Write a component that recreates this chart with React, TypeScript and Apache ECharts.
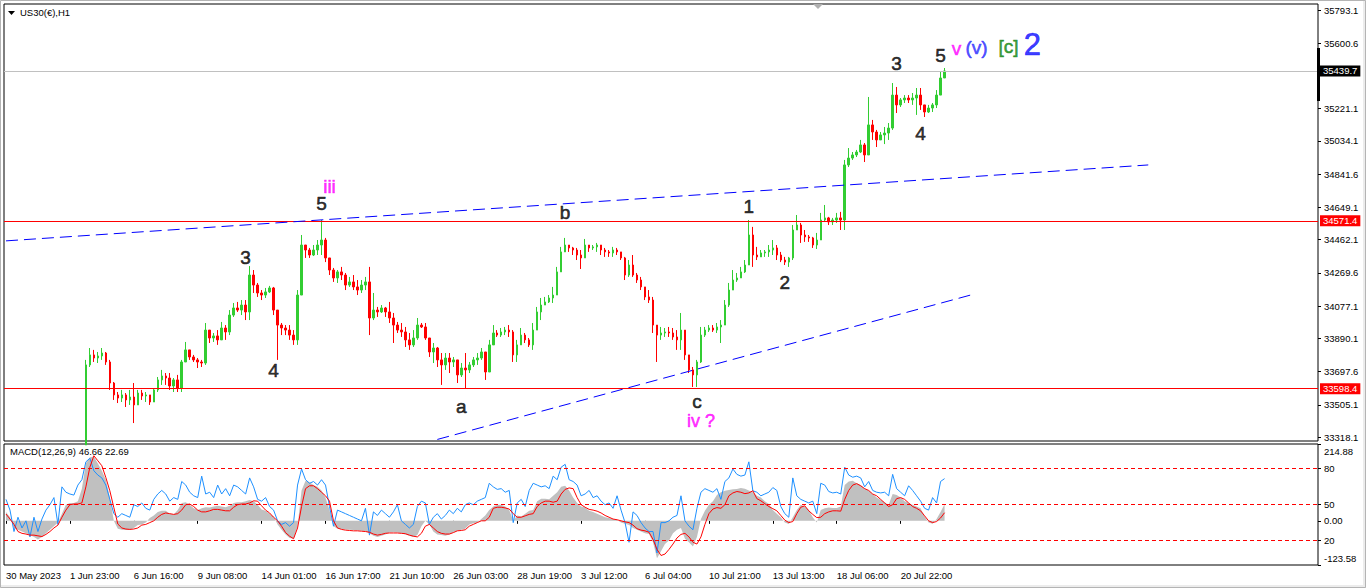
import React, { useEffect, useRef } from "react";
import * as echarts from "echarts";

// ---------- DATA ----------
const timeLabels = [
  "30 May 2023", "1 Jun 23:00", "6 Jun 16:00", "9 Jun 08:00", "14 Jun 01:00",
  "16 Jun 17:00", "21 Jun 10:00", "26 Jun 03:00", "28 Jun 19:00", "3 Jul 12:00",
  "6 Jul 04:00", "10 Jul 21:00", "13 Jul 13:00", "18 Jul 06:00", "20 Jul 22:00",
];
const barsPerTimeLabel = 16;
const categoryCount = 329;
const firstCandleBar = 20;

const opens = [
  33272, 33736, 33794, 33776, 33788, 33805, 33753, 33631, 33562, 33544,
  33562, 33533, 33550, 33504, 33573, 33556, 33562, 33521, 33591, 33649,
  33672, 33660, 33614, 33649, 33602, 33753, 33823, 33782, 33765, 33753,
  33747, 33938, 33892, 33904, 33881, 33950, 33927, 34025, 34066, 34054,
  34083, 34043, 34257, 34199, 34153, 34141, 34159, 34182, 34054, 33967,
  33950, 33938, 33909, 33881, 34141, 34431, 34402, 34373, 34402, 34431,
  34460, 34356, 34286, 34240, 34275, 34257, 34199, 34217, 34188, 34170,
  34199, 34217, 34008, 34054, 34043, 34066, 34043, 34008, 33967, 33938,
  33927, 33881, 33852, 33892, 33967, 33956, 33892, 33811, 33834, 33765,
  33736, 33776, 33753, 33765, 33678, 33718, 33707, 33736, 33765, 33776,
  33811, 33695, 33852, 33921, 33909, 33927, 33938, 33927, 33794, 33852,
  33909, 33881, 33852, 33938, 34043, 34083, 34101, 34124, 34141, 34275,
  34391, 34431, 34414, 34402, 34373, 34356, 34431, 34414, 34420, 34431,
  34402, 34391, 34385, 34402, 34391, 34356, 34257, 34315, 34257, 34228,
  34188, 34130, 34112, 33967, 33909, 33921, 33927, 33921, 33898, 33881,
  33938, 33794, 33707, 33678, 33753, 33909, 33938, 33950, 33938, 33956,
  33967, 34083, 34170, 34228, 34240, 34275, 34315, 34489, 34373, 34362,
  34385, 34391, 34402, 34414, 34373, 34344, 34332, 34356, 34518, 34547,
  34489, 34478, 34472, 34431, 34460, 34576, 34588, 34565, 34576, 34588,
  34576, 34895, 34935, 34953, 34970, 35011, 34953, 35127, 35086, 35040,
  35069, 35080, 35109, 35300, 35243, 35272, 35283, 35272, 35283, 35300,
  35243, 35202, 35225, 35243, 35300, 35399,
];
const closes = [
  33736, 33794, 33776, 33788, 33805, 33753, 33631, 33562, 33544, 33562,
  33533, 33550, 33504, 33573, 33556, 33562, 33521, 33591, 33649, 33672,
  33660, 33614, 33649, 33602, 33753, 33823, 33782, 33765, 33753, 33747,
  33938, 33892, 33904, 33881, 33950, 33927, 34025, 34066, 34054, 34083,
  34043, 34257, 34199, 34153, 34141, 34159, 34182, 34054, 33967, 33950,
  33938, 33909, 33881, 34141, 34431, 34402, 34373, 34402, 34431, 34460,
  34356, 34286, 34240, 34275, 34257, 34199, 34217, 34188, 34170, 34199,
  34217, 34008, 34054, 34043, 34066, 34043, 34008, 33967, 33938, 33927,
  33881, 33852, 33892, 33967, 33956, 33892, 33811, 33834, 33765, 33736,
  33776, 33753, 33765, 33678, 33718, 33707, 33736, 33765, 33776, 33811,
  33695, 33852, 33921, 33909, 33927, 33938, 33927, 33794, 33852, 33909,
  33881, 33852, 33938, 34043, 34083, 34101, 34124, 34141, 34275, 34391,
  34431, 34414, 34402, 34373, 34356, 34431, 34414, 34420, 34431, 34402,
  34391, 34385, 34402, 34391, 34356, 34257, 34315, 34257, 34228, 34188,
  34130, 34112, 33967, 33909, 33921, 33927, 33921, 33898, 33881, 33938,
  33794, 33707, 33678, 33753, 33909, 33938, 33950, 33938, 33956, 33967,
  34083, 34170, 34228, 34240, 34275, 34315, 34489, 34373, 34362, 34385,
  34391, 34402, 34414, 34373, 34344, 34332, 34356, 34518, 34547, 34489,
  34478, 34472, 34431, 34460, 34576, 34588, 34565, 34576, 34588, 34576,
  34895, 34935, 34953, 34970, 35011, 34953, 35127, 35086, 35040, 35069,
  35080, 35109, 35300, 35243, 35272, 35283, 35272, 35283, 35300, 35243,
  35202, 35225, 35243, 35300, 35399, 35439.7,
];
const lows = [
  33272, 33724, 33753, 33747, 33765, 33736, 33591, 33533, 33515, 33521,
  33492, 33504, 33399, 33504, 33533, 33521, 33504, 33521, 33579, 33620,
  33620, 33591, 33579, 33579, 33579, 33753, 33765, 33753, 33718, 33724,
  33736, 33863, 33869, 33852, 33881, 33881, 33909, 34014, 34043, 34025,
  33996, 33996, 34153, 34130, 34112, 34124, 34153, 34025, 33765, 33909,
  33909, 33881, 33852, 33852, 34141, 34356, 34356, 34367, 34373, 34373,
  34332, 34257, 34217, 34211, 34228, 34170, 34188, 34170, 34141, 34153,
  34170, 33909, 33996, 34014, 34037, 34014, 33979, 33863, 33921, 33898,
  33840, 33823, 33840, 33881, 33950, 33881, 33782, 33747, 33724, 33620,
  33707, 33689, 33724, 33631, 33666, 33602, 33689, 33724, 33736, 33765,
  33649, 33695, 33852, 33898, 33898, 33909, 33898, 33753, 33753, 33852,
  33863, 33840, 33823, 33938, 33996, 34083, 34095, 34095, 34141, 34275,
  34391, 34391, 34373, 34344, 34292, 34356, 34391, 34402, 34391, 34373,
  34362, 34362, 34362, 34373, 34344, 34228, 34246, 34246, 34211, 34170,
  34112, 34095, 33921, 33753, 33881, 33898, 33898, 33881, 33823, 33823,
  33765, 33689, 33608, 33608, 33747, 33898, 33927, 33927, 33921, 33863,
  33967, 34072, 34170, 34217, 34240, 34269, 34315, 34304, 34344, 34362,
  34362, 34362, 34373, 34344, 34332, 34315, 34304, 34344, 34518, 34443,
  34449, 34449, 34414, 34408, 34460, 34565, 34547, 34547, 34559, 34518,
  34518, 34883, 34924, 34941, 34964, 34912, 34953, 35040, 34999, 35040,
  35016, 35040, 35098, 35196, 35231, 35254, 35254, 35243, 35185, 35214,
  35173, 35196, 35202, 35225, 35300, 35399,
];
const highs = [
  33765, 33834, 33823, 33811, 33834, 33811, 33765, 33637, 33579, 33591,
  33573, 33591, 33631, 33591, 33591, 33579, 33562, 33602, 33666, 33707,
  33689, 33689, 33660, 33678, 33765, 33869, 33823, 33794, 33776, 33765,
  33979, 33938, 33921, 33938, 33985, 33967, 34054, 34095, 34101, 34112,
  34112, 34309, 34286, 34211, 34170, 34182, 34194, 34188, 34054, 33979,
  33967, 33967, 33938, 34170, 34489, 34431, 34414, 34431, 34460, 34576,
  34472, 34356, 34298, 34286, 34304, 34269, 34246, 34257, 34228, 34228,
  34246, 34304, 34153, 34072, 34083, 34072, 34101, 34037, 33985, 33979,
  33956, 33921, 33938, 34008, 33979, 33979, 33892, 33863, 33840, 33805,
  33805, 33805, 33782, 33765, 33747, 33805, 33753, 33782, 33805, 33834,
  33811, 33881, 33967, 33938, 33950, 33956, 33967, 33938, 33881, 33950,
  33921, 33892, 33979, 34072, 34124, 34130, 34141, 34188, 34304, 34420,
  34472, 34431, 34420, 34414, 34402, 34466, 34431, 34431, 34443, 34431,
  34414, 34402, 34420, 34414, 34391, 34362, 34344, 34373, 34269, 34246,
  34188, 34170, 34130, 33967, 33956, 33950, 33956, 33950, 33938, 34037,
  33938, 33794, 33724, 33765, 33956, 33956, 33967, 33967, 33979, 33996,
  34112, 34211, 34286, 34269, 34304, 34344, 34576, 34536, 34420, 34402,
  34402, 34431, 34460, 34431, 34391, 34362, 34362, 34547, 34605, 34559,
  34518, 34489, 34478, 34501, 34617, 34663, 34594, 34588, 34617, 34623,
  34924, 34993, 34970, 34982, 35040, 35022, 35289, 35156, 35098, 35086,
  35115, 35138, 35370, 35347, 35283, 35300, 35300, 35312, 35341, 35341,
  35243, 35243, 35254, 35329, 35434, 35457,
];

// MACD window (one value per bar, from the first bar on the screen)
const macdMain = [
  25, 10, -20, -25, -30, -35, -40, -45, -52, -45,
  -35, -25, -15, -5, 20, 45, 50, 50, 55, 90,
  160, 178, 180, 160, 140, 115, 65, 0, -22, -25,
  -26, -25, -20, -12, -10, -5, 8, 15, 25, 28,
  28, 20, 18, 30, 50, 52, 45, 35, 30, 35,
  38, 37, 40, 42, 40, 38, 42, 50, 52, 52,
  55, 58, 55, 45, 32, 28, 20, 12, -10, -25,
  -38, -48, -50, -15, 85, 112, 108, 100, 95, 85,
  65, 30, -15, -22, -23, -24, -25, -26, -27, -28,
  -30, -35, -42, -45, -42, -38, -33, -32, -33, -35,
  -38, -42, -45, -40, -15, 0, -10, -30, -38, -40,
  -42, -38, -32, -28, -25, -22, -10, -7, -5, 5,
  15, 30, 40, 45, 45, 40, 30, 0, 15, 12,
  20, 28, 30, 55, 62, 62, 60, 70, 80, 95,
  98, 85, 65, 50, 40, 37, 28, 25, 20, 15,
  10, 8, 5, 2, -5, -8, -12, -20, -25, -30,
  -35, -37, -60, -105, -85, -65, -55, -35, -25, -20,
  -50, -60, -72, -45, 5, 28, 45, 55, 72, 80,
  84, 86, 88, 89, 92, 90, 85, 80, 70, 65,
  55, 47, 30, 20, 10, -5, -9, 10, 30, 45,
  40, 30, 10, -5, 30, 35, 37, 36, 36, 40,
  100, 110, 112, 105, 100, 90, 85, 75, 65, 58,
  52, 45, 75, 72, 65, 55, 50, 45, 40, 35,
  12, -5, -8, 5, 25, 46.66,
];
const macdSignal = [
  19, 5, -10, -30, -35, -37, -40, -40, -42, -44,
  -38, -30, -20, -12, 10, 30, 45, 47, 47, 50,
  95, 150, 182, 168, 154, 121, 84, 37, -9, -20,
  -23, -24, -23, -20, -12, -10, -5, 0, 10, 18,
  22, 20, 18, 20, 30, 45, 47, 40, 30, 25,
  25, 28, 32, 32, 30, 28, 28, 38, 45, 47,
  47, 50, 56, 55, 42, 30, 22, 10, 0, -15,
  -33, -43, -50, -20, 40, 90, 98, 98, 90, 80,
  70, 55, 0, -20, -24, -26, -27, -28, -28, -29,
  -30, -32, -37, -40, -38, -35, -34, -34, -34, -35,
  -36, -40, -43, -45, -35, -15, -10, -20, -30, -35,
  -37, -37, -33, -28, -27, -25, -15, -10, -5, 0,
  0, 10, 35, 38, 38, 36, 33, 20, 10, 10,
  14, 18, 20, 40, 50, 55, 55, 52, 55, 75,
  88, 92, 90, 65, 45, 38, 32, 30, 27, 22,
  15, 10, 5, 3, 0, -3, -5, -12, -22, -26,
  -28, -32, -52, -80, -97, -93, -80, -65, -48, -38,
  -35, -45, -60, -65, -45, -10, 20, 33, 37, 35,
  45, 70, 78, 82, 80, 76, 78, 84, 62, 56,
  48, 40, 34, 28, 15, 2, -5, -2, 20, 38,
  42, 28, 18, 9, 10, 20, 25, 28, 28, 27,
  60, 85, 100, 104, 98, 90, 85, 75, 70, 60,
  50, 40, 45, 62, 65, 60, 50, 40, 35, 28,
  14, 0, -5, -2, 8, 22.69,
];
const macdFast = [
  60, 30, -30, 10, -20, 0, -45, 10, -30, 5,
  30, 45, 65, -10, 95, 80, 75, 72, 100, 115,
  165, 175, 140, 128, 120, 100, 60, 20, 10, 20,
  15, 10, 45, 40, 50, 35, 30, 60, 75, 85,
  75, 55, 65, 60, 110, 100, 80, 70, 65, 125,
  75, 80, 65, 100, 75, 90, 70, 100, 95, 85,
  75, 120, 95, 60, 55, 65, 40, 30, 0, -10,
  -5, -15, -5, 100, 145, 115, 105, 110, 100, 115,
  100, 40, -15, 30, 25, 20, 15, 10, 5, 0,
  35, -40, 25, 15, 30, 20, 10, 25, 45, 0,
  -10, -20, -10, 40, 55, 50, -10, 10, 20, 5,
  15, 30, 20, 35, 25, 45, 50, 45, 55, 60,
  65, 105, 95, 88, 90, 80, 85, -5, 50, 60,
  40, 85, 105, 100, 95, 98, 90, 125, 115, 150,
  158, 115, 110, 100, 70, 75, 85, 65, 70, 55,
  45, 50, 35, 70, 30, -5, -60, 25, 15, -5,
  -20, -30, -30, -90, -5, -5, 0, 10, 15, 70,
  0, -15, -25, 35, 80, 90, 85, 80, 90, 60,
  110, 120, 145, 130, 125, 128, 165, 84, 80, 70,
  75, 80, 93, 85, 40, 20, 10, 120, 70, 60,
  55, 50, 55, 20, 105, 100, 82, 78, 80, 75,
  150, 128, 122, 125, 120, 95, 110, 85, 80, 78,
  80, 70, 130, 90, 80, 70, 98, 85, 70, 55,
  35, 30, 65, 50, 110, 118,
];

const priceTicks = [
  35793.1, 35600.6, 35413.6, 35221.1, 35034.1, 34841.6, 34649.1,
  34462.1, 34269.6, 34077.1, 33890.1, 33697.6, 33505.1, 33318.1,
];
// the 35413.6 label sits under the last-price box, so only its tick is drawn
const priceLabels = [
  35793.1, 35600.6, 35221.1, 35034.1, 34841.6, 34649.1,
  34462.1, 34269.6, 34077.1, 33890.1, 33697.6, 33505.1, 33318.1,
];
const priceMin = 33295.0;
const priceMax = 35827.9;
const lastPrice = 35439.7;
const levelPrices = [34571.4, 33598.4];

const macdMin = -123.58;
const macdMax = 214.88;
const macdTickValues = [214.88, 146.6, 45.9, 0, -54.8, -123.58];
const macdTickText = ["214.88", "80", "50", "0.00", "20", "-123.58"];
const macdLevels = [146.6, 45.9, -54.8];

const upperTrendBars = [0, 286];
const upperTrendPrices = [34455, 34895];
const lowerTrendBars = [108, 242];
const lowerTrendPrices = [33304, 34144];

const waveText = ["iii", "5", "3", "4", "b", "a", "c", "iv ?", "1", "2", "3", "4", "5", "v", "(v)", "[c]", "2"];
const waveBar = [81, 79, 60, 67, 140, 114, 173, 174, 186, 195, 223, 229, 234, 238, 243, 251, 257];
const wavePrice = [34773, 34672, 34359, 33704, 34620, 33496, 33525, 33409, 34655, 34214, 35484, 35078, 35530, 35571, 35576, 35582, 35593];

// ---------- STYLE ----------
const FONT = "'Liberation Sans', Arial, sans-serif";
const AX = 9.5;
const MAGENTA = "#ff00ff";
const waveColor = [
  MAGENTA, "#000", "#000", "#000", "#000", "#000", "#000", MAGENTA,
  "#000", "#000", "#000", "#000", "#000", MAGENTA, "#2b2bff", "#0f870f", "#0a0aff",
];
const waveSize = [19, 19, 19, 19, 19, 19, 19, 18, 19, 19, 19, 19, 19, 19, 19, 19, 31];

function buildOption() {
  const cats = Array.from({ length: categoryCount }, (_, i) => String(i));
  const showTime = (idx: number) =>
    idx % barsPerTimeLabel === 0 && idx / barsPerTimeLabel < timeLabels.length;

  const candleData = closes.map((c, k) => [firstCandleBar + k, opens[k], c, lows[k], highs[k]]);

  const priceBox = (bg: string, value: number) => ({
    show: true,
    position: "end",
    distance: 2,
    formatter: value.toFixed(1),
    backgroundColor: bg,
    color: "#fff",
    padding: [1, 3, 0, 3],
    fontSize: AX,
    fontFamily: FONT,
  });

  const trendStyle = { color: "#0000ff", width: 1, type: [12, 6] };

  const lastIdx = macdTickValues.length - 1;

  return {
    animation: false,
    backgroundColor: "#ffffff",
    grid: [
      { left: 4, top: 4, width: 1314, height: 437, show: true, borderColor: "#000", borderWidth: 1, backgroundColor: "#fff" },
      { left: 4, top: 444, width: 1314, height: 121, show: true, borderColor: "#000", borderWidth: 1, backgroundColor: "#fff" },
    ],
    xAxis: [
      {
        type: "category", gridIndex: 0, data: cats, boundaryGap: true,
        axisLine: { show: false }, axisTick: { show: false }, axisLabel: { show: false }, splitLine: { show: false },
      },
      {
        type: "category", gridIndex: 1, data: cats, boundaryGap: true,
        axisLine: { show: false },
        axisTick: { show: true, alignWithLabel: true, interval: (i: number) => showTime(i), length: 3, lineStyle: { color: "#000" } },
        axisLabel: {
          interval: (i: number) => showTime(i),
          formatter: (_v: string, i: number) => timeLabels[i / barsPerTimeLabel] || "",
          align: "left", margin: 5, color: "#000", fontSize: AX, fontFamily: FONT,
        },
        splitLine: { show: false },
      },
    ],
    yAxis: [
      {
        type: "value", gridIndex: 0, position: "right", min: priceMin, max: priceMax,
        axisLine: { show: false }, splitLine: { show: false },
        axisTick: { show: true, customValues: priceTicks, length: 3, lineStyle: { color: "#000" } },
        axisLabel: {
          customValues: priceLabels, formatter: (v: number) => v.toFixed(1),
          margin: 6, color: "#000", fontSize: AX, fontFamily: FONT,
        },
      },
      {
        type: "value", gridIndex: 1, position: "right", min: macdMin, max: macdMax,
        axisLine: { show: false }, splitLine: { show: false },
        axisTick: { show: true, customValues: macdTickValues, length: 3, lineStyle: { color: "#000" } },
        axisLabel: {
          customValues: macdTickValues,
          formatter: (v: number) => {
            const k = macdTickValues.findIndex((x) => Math.abs(x - v) < 0.01);
            const t = k >= 0 ? macdTickText[k] : "";
            if (k === 0) return "{top|" + t + "}";
            if (k === lastIdx) return "{bot|" + t + "}";
            return t;
          },
          rich: {
            top: { padding: [14, 0, 0, 0], fontSize: AX, fontFamily: FONT, color: "#000" },
            bot: { padding: [0, 0, 14, 0], fontSize: AX, fontFamily: FONT, color: "#000" },
          },
          margin: 6, color: "#000", fontSize: AX, fontFamily: FONT,
        },
      },
    ],
    series: [
      {
        type: "candlestick", xAxisIndex: 0, yAxisIndex: 0, silent: true, clip: true,
        dimensions: ["bar", "open", "close", "lowest", "highest"],
        encode: { x: "bar", y: ["open", "close", "lowest", "highest"] },
        data: candleData,
        barWidth: 2,
        itemStyle: { color: "#32cd32", color0: "#ff0000", borderColor: "#32cd32", borderColor0: "#ff0000", borderWidth: 1 },
        markLine: {
          silent: true, symbol: ["none", "none"], animation: false,
          data: [
            { yAxis: lastPrice, lineStyle: { color: "#c0c0c0", type: "solid", width: 1 }, label: priceBox("#000000", lastPrice) },
            { yAxis: levelPrices[0], lineStyle: { color: "#ff0000", type: "solid", width: 1 }, label: priceBox("#ff0000", levelPrices[0]) },
            { yAxis: levelPrices[1], lineStyle: { color: "#ff0000", type: "solid", width: 1 }, label: priceBox("#ff0000", levelPrices[1]) },
            [
              { coord: [upperTrendBars[0], upperTrendPrices[0]], lineStyle: trendStyle, label: { show: false } },
              { coord: [upperTrendBars[1], upperTrendPrices[1]] },
            ],
            [
              { coord: [lowerTrendBars[0], lowerTrendPrices[0]], lineStyle: trendStyle, label: { show: false } },
              { coord: [lowerTrendBars[1], lowerTrendPrices[1]] },
            ],
          ],
        },
      },
      {
        type: "scatter", xAxisIndex: 0, yAxisIndex: 0, silent: true, z: 10,
        symbol: "circle", symbolSize: 0.1, itemStyle: { color: "transparent" },
        label: { show: true, position: "inside", fontFamily: FONT },
        data: waveText.map((t, k) => ({
          value: [waveBar[k], wavePrice[k]],
          label: {
            show: true, formatter: t, color: waveColor[k], fontSize: waveSize[k], fontFamily: FONT,
            textBorderColor: waveColor[k], textBorderWidth: 0.6,
          },
        })),
      },
      {
        type: "line", xAxisIndex: 1, yAxisIndex: 1, silent: true,
        data: macdMain, symbol: "none",
        lineStyle: { width: 0, color: "#c0c0c0" },
        areaStyle: { color: "#c0c0c0", opacity: 1, origin: 0 },
        markLine: {
          silent: true, symbol: ["none", "none"], animation: false,
          label: { show: false },
          lineStyle: { color: "#ff0000", type: [4, 3], width: 1 },
          data: macdLevels.map((v) => ({ yAxis: v })),
        },
        z: 2,
      },
      {
        type: "line", xAxisIndex: 1, yAxisIndex: 1, silent: true, z: 4,
        data: macdFast, symbol: "none", lineStyle: { color: "#1e90ff", width: 1 },
      },
      {
        type: "line", xAxisIndex: 1, yAxisIndex: 1, silent: true, z: 5,
        data: macdSignal, symbol: "none", lineStyle: { color: "#ff0000", width: 1 },
      },
    ],
    graphic: [
      { type: "rect", silent: true, z: 100, shape: { x: 0, y: 585, width: 1366, height: 3 }, style: { fill: "#ececec" } },
      { type: "rect", silent: true, z: 100, shape: { x: 1363, y: 0, width: 3, height: 588 }, style: { fill: "#ececec" } },
      { type: "rect", silent: true, z: 100, shape: { x: 0.5, y: 0.5, width: 1365, height: 587 }, style: { fill: "none", stroke: "#b4b4b4", lineWidth: 1 } },
      { type: "polygon", silent: true, z: 100, shape: { points: [[8, 11], [15, 11], [11.5, 15]] }, style: { fill: "#000" } },
      { type: "text", silent: true, z: 100, x: 20, y: 12.5, style: { text: "US30(€),H1", fill: "#000", fontSize: AX, fontFamily: FONT, verticalAlign: "middle" } },
      { type: "polygon", silent: true, z: 100, shape: { points: [[813, 4], [823, 4], [818, 9]] }, style: { fill: "#b0b0b0" } },
      { type: "rect", silent: true, z: 100, shape: { x: 1317, y: 48, width: 3, height: 53 }, style: { fill: "#000" } },
      {
        type: "text", silent: true, z: 100, x: 10, y: 451.5,
        style: {
          text: "MACD(12,26,9) " + macdMain[macdMain.length - 1] + " " + macdSignal[macdSignal.length - 1],
          fill: "#000", fontSize: AX, fontFamily: FONT, verticalAlign: "middle",
        },
      },
    ],
  };
}

export default function App() {
  const ref = useRef<HTMLDivElement>(null);
  useEffect(() => {
    if (!ref.current) return;
    const chart = echarts.init(ref.current, null, { renderer: "svg" });
    chart.setOption(buildOption() as any);
    return () => chart.dispose();
  }, []);
  return (
    <div
      ref={ref}
      style={{ position: "fixed", left: 0, top: 0, width: 1366, height: 588, background: "#fff" }}
    />
  );
}
